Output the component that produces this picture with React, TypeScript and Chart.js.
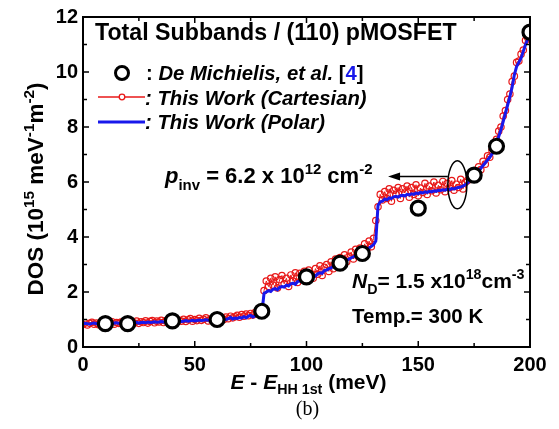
import React, { useEffect, useRef } from 'react';
import { Chart, registerables } from 'chart.js';

Chart.register(...registerables);

// Energy grid (meV), 1 meV step from 0 to 200
const energyGrid: number[] = Array.from({ length: 201 }, (_, i) => i);

// "This Work (Polar)" DOS values at each energy in energyGrid
const polarDOS: number[] = [
  0.84, 0.86, 0.85, 0.83, 0.86, 0.87, 0.85, 0.86, 0.84, 0.87,
  0.86, 0.88, 0.86, 0.85, 0.87, 0.88, 0.86, 0.87, 0.89, 0.87,
  0.88, 0.86, 0.89, 0.88, 0.9, 0.87, 0.89, 0.9, 0.88, 0.91,
  0.89, 0.9, 0.92, 0.9, 0.91, 0.93, 0.91, 0.92, 0.9, 0.93,
  0.94, 0.92, 0.93, 0.95, 0.93, 0.94, 0.96, 0.94, 0.95, 0.97,
  0.95, 0.96, 0.98, 0.96, 0.97, 0.99, 0.97, 0.98, 1.0, 0.98,
  1.0, 1.01, 0.99, 1.02, 1.0, 1.03, 1.08, 1.02, 1.05, 1.04,
  1.07, 1.05, 1.1, 1.06, 1.12, 1.15, 1.09, 1.13, 1.16, 1.18,
  1.22,
  1.95, 2.0, 2.05, 2.02, 2.1, 2.12, 2.08, 2.17, 2.2, 2.18,
  2.25, 2.22, 2.3, 2.32, 2.28, 2.38, 2.4, 2.37, 2.46, 2.5,
  2.52, 2.55, 2.6, 2.58, 2.66, 2.7, 2.68, 2.78, 2.8, 2.85,
  2.88, 2.93, 2.95, 3.02, 3.05, 3.08, 3.12, 3.15, 3.2, 3.24,
  3.28, 3.33, 3.36, 3.42, 3.45, 3.5, 3.55, 3.6, 3.66, 3.72, 3.85,
  5.15, 5.28, 5.3, 5.38, 5.35, 5.42, 5.4, 5.46, 5.48,
  5.45, 5.5, 5.52, 5.49, 5.55, 5.53, 5.57, 5.55, 5.6, 5.58,
  5.62, 5.6, 5.64, 5.62, 5.66, 5.64, 5.68, 5.66, 5.7, 5.69,
  5.72, 5.7, 5.74, 5.72, 5.76, 5.75, 5.78, 5.8, 5.82, 5.85,
  5.9, 5.96, 6.05, 6.12, 6.2, 6.3, 6.4, 6.5, 6.6, 6.7,
  6.8, 6.9, 7.02, 7.18, 7.4, 7.65, 7.9, 8.2, 8.5, 8.8,
  9.1, 9.45, 9.9, 10.2, 10.35, 10.5, 10.75, 11.0, 11.2, 11.45,
];

// "This Work (Cartesian)" DOS values at each energy in energyGrid
const cartesianDOS: number[] = [
  0.82, 0.88, 0.8, 0.86, 0.9, 0.83, 0.87, 0.81, 0.89, 0.85,
  0.9, 0.84, 0.88, 0.92, 0.83, 0.89, 0.86, 0.91, 0.85, 0.9,
  0.93, 0.84, 0.91, 0.87, 0.94, 0.86, 0.92, 0.89, 0.95, 0.87,
  0.93, 0.96, 0.88, 0.94, 0.91, 0.97, 0.89, 0.95, 0.99, 0.9,
  0.96, 1.0, 0.91, 0.97, 0.94, 1.01, 0.93, 0.99, 1.03, 0.94,
  1.0, 0.96, 1.04, 0.97, 1.01, 1.06, 0.95, 1.02, 0.99, 1.05,
  0.98, 1.04, 1.07, 1.0, 1.09, 1.03, 1.12, 1.06, 1.1, 1.15,
  1.08, 1.18, 1.12, 1.2, 1.14, 1.22, 1.16, 1.25, 1.2, 1.28,
  1.3,
  2.05, 2.4, 2.2, 2.5, 2.25, 2.55, 2.15, 2.45, 2.6, 2.3,
  2.5, 2.2, 2.62, 2.4, 2.7, 2.35, 2.68, 2.5, 2.75, 2.45,
  2.8, 2.6, 2.5, 2.85, 2.65, 2.95, 2.6, 2.9, 3.0, 2.75,
  3.1, 2.85, 3.2, 2.95, 3.25, 3.0, 3.35, 3.1, 3.3, 3.45,
  3.2, 3.55, 3.3, 3.6, 3.45, 3.75, 3.55, 3.85, 3.65, 3.95, 4.6,
  5.1, 5.55, 5.35, 5.65, 5.4, 5.75, 5.3, 5.7, 5.55, 5.8,
  5.4, 5.75, 5.6, 5.85, 5.45, 5.8, 5.55, 5.9, 5.5, 5.78,
  5.62, 5.95, 5.55, 5.85, 5.68, 6.0, 5.6, 5.88, 5.72, 6.02,
  5.65, 5.95, 5.78, 6.05, 5.7, 5.92, 5.8, 6.1, 5.75, 5.98,
  6.05, 6.2, 6.1, 6.35, 6.3, 6.55, 6.45, 6.75, 6.65, 6.95,
  6.9, 7.15, 7.3, 7.55, 7.85, 8.0, 8.4, 8.6, 9.0, 9.2,
  9.65, 9.85, 10.35, 10.4, 10.65, 10.8, 11.15, 11.25, 11.5,
];

// De Michielis et al. [4] reference points
const refEnergy: number[] = [10, 20, 40, 60, 80, 100, 115, 125, 150, 175, 185, 200];
const refDOS: number[] = [0.85, 0.85, 0.95, 1.0, 1.3, 2.55, 3.05, 3.4, 5.05, 6.25, 7.3, 11.45];

// Axis ticks
const xMajorTicks: number[] = [0, 50, 100, 150, 200];
const xMinorTicks: number[] = [25, 75, 125, 175];
const yMajorTicks: number[] = [0, 2, 4, 6, 8, 10, 12];
const yMinorTicks: number[] = [1, 3, 5, 7, 9, 11];

const RED = 'rgb(232,24,24)';
const BLUE = 'rgb(24,24,235)';
const FONT = '"Liberation Sans", Arial, Helvetica, sans-serif';

type Seg = { t: string; it?: boolean; sub?: boolean; sup?: boolean; color?: string };

function segFont(seg: Seg, size: number) {
  const s = seg.sub || seg.sup ? size * 0.68 : size;
  return `${seg.it ? 'italic ' : ''}bold ${s}px ${FONT}`;
}

function richWidth(ctx: CanvasRenderingContext2D, segs: Seg[], size: number) {
  let w = 0;
  for (const seg of segs) {
    ctx.font = segFont(seg, size);
    w += ctx.measureText(seg.t).width;
  }
  return w;
}

function drawRich(
  ctx: CanvasRenderingContext2D,
  segs: Seg[],
  x: number,
  y: number,
  size: number,
  align: 'left' | 'center' = 'left',
  subShift = 0.3
) {
  ctx.save();
  ctx.textBaseline = 'alphabetic';
  ctx.textAlign = 'left';
  let cx = align === 'center' ? x - richWidth(ctx, segs, size) / 2 : x;
  for (const seg of segs) {
    ctx.font = segFont(seg, size);
    const dy = seg.sub ? size * subShift : seg.sup ? -size * 0.42 : 0;
    ctx.fillStyle = seg.color || '#000';
    ctx.fillText(seg.t, cx, y + dy);
    cx += ctx.measureText(seg.t).width;
  }
  ctx.restore();
}

const decorPlugin = {
  id: 'decor',
  afterDatasetsDraw(chart: any) {
    const ctx: CanvasRenderingContext2D = chart.ctx;
    const { left, right, top, bottom } = chart.chartArea;
    const xs = chart.scales.x;
    const ys = chart.scales.y;
    ctx.save();
    // frame
    ctx.strokeStyle = '#000';
    ctx.lineWidth = 2;
    ctx.strokeRect(left, top, right - left, bottom - top);
    // ticks (inward)
    ctx.lineWidth = 1.5;
    const seg = (x1: number, y1: number, x2: number, y2: number) => {
      ctx.beginPath();
      ctx.moveTo(x1, y1);
      ctx.lineTo(x2, y2);
      ctx.stroke();
    };
    for (const v of xMajorTicks) {
      const px = xs.getPixelForValue(v);
      seg(px, bottom, px, bottom - 6);
      seg(px, top, px, top + 6);
    }
    for (const v of xMinorTicks) {
      const px = xs.getPixelForValue(v);
      seg(px, bottom, px, bottom - 4);
      seg(px, top, px, top + 4);
    }
    for (const v of yMajorTicks) {
      const py = ys.getPixelForValue(v);
      seg(left, py, left + 6, py);
      seg(right, py, right - 6, py);
    }
    for (const v of yMinorTicks) {
      const py = ys.getPixelForValue(v);
      seg(left, py, left + 4, py);
      seg(right, py, right - 4, py);
    }

    // Title inside plot
    drawRich(ctx, [{ t: 'Total Subbands / (110) pMOSFET' }], 95, 40, 23.2);

    // Legend
    ctx.lineWidth = 3;
    ctx.strokeStyle = '#000';
    ctx.fillStyle = '#fff';
    ctx.beginPath();
    ctx.arc(122, 73, 6.5, 0, Math.PI * 2);
    ctx.fill();
    ctx.stroke();
    drawRich(
      ctx,
      [
        { t: ': ' },
        { t: 'De Michielis, et al. ', it: true },
        { t: '[' },
        { t: '4', color: BLUE },
        { t: ']' },
      ],
      146,
      80,
      20.3
    );
    ctx.lineWidth = 1.3;
    ctx.strokeStyle = RED;
    seg(98, 97, 145, 97);
    ctx.fillStyle = '#fff';
    ctx.beginPath();
    ctx.arc(122, 97, 2.8, 0, Math.PI * 2);
    ctx.fill();
    ctx.stroke();
    drawRich(ctx, [{ t: ': This Work (Cartesian)', it: true }], 145, 105, 20.3);
    ctx.lineWidth = 3;
    ctx.strokeStyle = BLUE;
    seg(98, 122, 145, 122);
    drawRich(ctx, [{ t: ': This Work (Polar)', it: true }], 145, 129, 20.3);

    // p_inv annotation with arrow and ellipse
    drawRich(
      ctx,
      [
        { t: 'p', it: true },
        { t: 'inv', sub: true },
        { t: ' = 6.2 x 10' },
        { t: '12', sup: true },
        { t: ' cm' },
        { t: '-2', sup: true },
      ],
      165,
      183,
      22
    );
    const ex = xs.getPixelForValue(167.5);
    const ey = ys.getPixelForValue(5.9);
    ctx.strokeStyle = '#000';
    ctx.lineWidth = 1.5;
    ctx.beginPath();
    ctx.ellipse(ex, ey, 9.5, 24, 0, 0, Math.PI * 2);
    ctx.stroke();
    const ay = ys.getPixelForValue(6.2);
    const axEnd = xs.getPixelForValue(136.5);
    seg(ex - 9.5, ay, axEnd + 8, ay);
    ctx.fillStyle = '#000';
    ctx.beginPath();
    ctx.moveTo(axEnd, ay);
    ctx.lineTo(axEnd + 12, ay - 4);
    ctx.lineTo(axEnd + 12, ay + 4);
    ctx.closePath();
    ctx.fill();

    // N_D and Temp
    drawRich(
      ctx,
      [
        { t: 'N', it: true },
        { t: 'D', sub: true },
        { t: '= 1.5 x10' },
        { t: '18', sup: true },
        { t: 'cm' },
        { t: '-3', sup: true },
      ],
      352,
      288,
      21
    );
    drawRich(ctx, [{ t: 'Temp.= 300 K' }], 352, 323, 20.5);

    // axis titles
    drawRich(
      ctx,
      [
        { t: 'E', it: true },
        { t: ' - ' },
        { t: 'E', it: true },
        { t: 'HH 1st', sub: true },
        { t: ' (meV)' },
      ],
      (left + right) / 2 + 2,
      389,
      21,
      'center',
      0.24
    );
    ctx.save();
    ctx.translate(43, 189);
    ctx.rotate(-Math.PI / 2);
    drawRich(
      ctx,
      [
        { t: 'DOS (10' },
        { t: '15', sup: true },
        { t: ' meV' },
        { t: '-1', sup: true },
        { t: 'm' },
        { t: '-2', sup: true },
        { t: ')' },
      ],
      0,
      0,
      22.5,
      'center'
    );
    ctx.restore();

    // (b)
    ctx.font = '20px "Liberation Serif", "Times New Roman", serif';
    ctx.fillStyle = '#000';
    ctx.textAlign = 'center';
    ctx.textBaseline = 'alphabetic';
    ctx.fillText('(b)', (left + right) / 2 + 1, 415);
    ctx.restore();
  },
};

export default function App() {
  const canvasRef = useRef<HTMLCanvasElement | null>(null);

  useEffect(() => {
    if (!canvasRef.current) return;
    const tickFont = { family: FONT, weight: 'bold' as const, size: 20 };
    const chart = new Chart(canvasRef.current, {
      type: 'line',
      data: {
        datasets: [
          {
            label: 'De Michielis, et al. [4]',
            data: refEnergy.map((x, i) => ({ x, y: refDOS[i] })),
            showLine: false,
            pointRadius: 7,
            pointBorderWidth: 3.2,
            pointBorderColor: '#000',
            pointBackgroundColor: '#fff',
            order: 0,
          },
          {
            label: 'This Work (Polar)',
            data: energyGrid.map((x, i) => ({ x, y: polarDOS[i] })),
            borderColor: BLUE,
            borderWidth: 3,
            pointRadius: 0,
            tension: 0,
            order: 1,
          },
          {
            label: 'This Work (Cartesian)',
            data: energyGrid.map((x, i) => ({ x, y: cartesianDOS[i] })),
            borderColor: RED,
            borderWidth: 1,
            pointRadius: 3.2,
            pointBorderWidth: 1.2,
            pointBorderColor: RED,
            pointBackgroundColor: 'rgba(255,255,255,0)',
            tension: 0,
            order: 2,
          },
        ],
      },
      options: {
        responsive: false,
        animation: false,
        events: [],
        layout: { padding: { left: 0, right: 29, top: 15, bottom: 0 } },
        plugins: { legend: { display: false }, tooltip: { enabled: false }, title: { display: false } },
        scales: {
          x: {
            type: 'linear',
            min: 0,
            max: 200,
            grid: { display: false, drawTicks: false },
            border: { display: false },
            ticks: { stepSize: 50, font: tickFont, color: '#000', padding: 6, maxRotation: 0 },
            afterFit: (s: any) => {
              s.height = 82;
            },
          },
          y: {
            type: 'linear',
            min: 0,
            max: 12,
            grid: { display: false, drawTicks: false },
            border: { display: false },
            ticks: { stepSize: 2, font: tickFont, color: '#000', padding: 5 },
            afterFit: (s: any) => {
              s.width = 83;
            },
          },
        },
      },
      plugins: [decorPlugin],
    });
    return () => chart.destroy();
  }, []);

  return (
    <div style={{ position: 'absolute', left: 0, top: 0, width: 559, height: 429, background: '#fff' }}>
      <canvas ref={canvasRef} width={559} height={429} style={{ width: 559, height: 429 }} />
    </div>
  );
}
